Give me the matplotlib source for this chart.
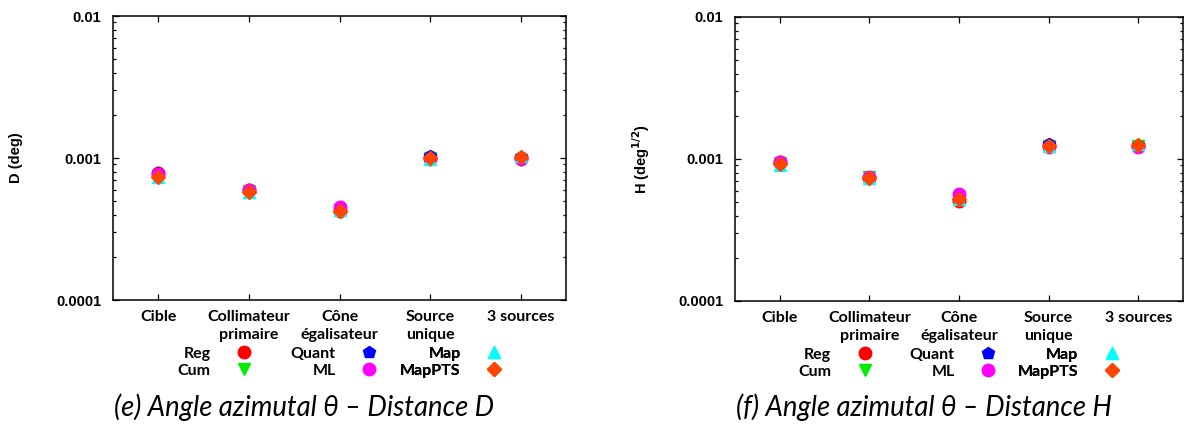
import numpy as np
import matplotlib
matplotlib.use("Agg")
import matplotlib.pyplot as plt
from matplotlib.font_manager import FontProperties
from matplotlib.ticker import LogLocator, NullFormatter

# Data
categories = ["Cible", "Collimateur\nprimaire", "Cône\négalisateur", "Source\nunique", "3 sources"]
series = ["Reg", "Cum", "Quant", "ML", "Map", "MapPTS"]
colors = ["#ff0000", "#00ee00", "#0000ff", "#ff00ff", "#00ffff", "#ff4500"]
markers = ["o", "v", "p", "o", "^", "D"]

# panel (e): distance D (deg)
D_reg    = [0.00079, 0.00060, 0.00042, 0.00102, 0.00100]
D_cum    = [0.00075, 0.00059, 0.00043, 0.00100, 0.00097]
D_quant  = [0.00079, 0.00060, 0.00043, 0.00104, 0.00101]
D_ml     = [0.00077, 0.00060, 0.00045, 0.00098, 0.00098]
D_map    = [0.00074, 0.00058, 0.00043, 0.00099, 0.00104]
D_mappts = [0.00073, 0.00058, 0.00042, 0.00100, 0.00102]

# panel (f): distance H (deg^1/2)
H_reg    = [0.00096, 0.00074, 0.00051, 0.00126, 0.00124]
H_cum    = [0.00093, 0.00075, 0.00053, 0.00124, 0.00124]
H_quant  = [0.00096, 0.00074, 0.00053, 0.00128, 0.00126]
H_ml     = [0.00096, 0.00075, 0.00057, 0.00121, 0.00121]
H_map    = [0.00091, 0.00073, 0.00052, 0.00123, 0.00128]
H_mappts = [0.00092, 0.00073, 0.00052, 0.00124, 0.00126]

yticks = [0.0001, 0.001, 0.01]
ytick_labels = ["0.0001", "0.001", "0.01"]

panels = [
    ([D_reg, D_cum, D_quant, D_ml, D_map, D_mappts], "D (deg)",
     "(e) Angle azimutal θ – Distance D", 24),
    ([H_reg, H_cum, H_quant, H_ml, H_map, H_mappts], "H (deg$^{\\mathbf{1/2}}$)",
     "(f) Angle azimutal θ – Distance H", 19),
]

W, H = 1186, 428
fig = plt.figure(figsize=(W / 100, H / 100), dpi=100)

# axes boxes in pixels: left, top, right, bottom
boxes = [(113, 16, 566, 300), (735, 17, 1183, 301)]
caption_x = [304, 924]

lab_font = dict(family=["Lato", "DejaVu Sans"], weight="bold", size=11.5)
num_font = dict(family=["Liberation Sans", "DejaVu Sans"], weight="bold", size=10.5)

x = np.arange(1, len(categories) + 1)

for (vals, ylabel, caption, lpad), (l, t, r, b), cx in zip(panels, boxes, caption_x):
    ax = fig.add_axes([l / W, 1 - b / H, (r - l) / W, (b - t) / H])
    handles = []
    for v, name, c, m in zip(vals, series, colors, markers):
        h, = ax.plot(x, v, linestyle="none", marker=m, color=c, ms=9 if m != "D" else 7.5,
                     mec=c, label=name)
        handles.append(h)

    ax.set_yscale("log")
    ax.set_ylim(0.0001, 0.01)
    ax.set_xlim(0.5, 5.5)
    ax.yaxis.set_minor_locator(LogLocator(base=10, subs=np.arange(2, 10)))
    ax.yaxis.set_minor_formatter(NullFormatter())
    ax.tick_params(which="both", direction="in", top=True, right=True, width=0.9)
    ax.tick_params(which="major", length=4.5)
    ax.tick_params(which="minor", length=2.5)
    ax.tick_params(axis="x", pad=7)
    ax.tick_params(axis="y", pad=8.5, labelsize=10.5)
    ax.set_yticks(yticks, ytick_labels)
    ax.set_xticks(x, categories, linespacing=1.35, **lab_font)
    for lbl in ax.get_yticklabels():
        lbl.set_fontproperties(FontProperties(**num_font))
    for s in ax.spines.values():
        s.set_linewidth(1.1)
    ax.set_ylabel(ylabel, labelpad=lpad, **num_font)

    # legend: 3 columns, label to the left of the marker
    for col in range(3):
        hh = handles[2 * col:2 * col + 2]
        leg = ax.legend(handles=hh, loc="upper right", markerfirst=False, frameon=False,
                        bbox_to_anchor=(0.289 + col * 0.276 + 0.018, -0.165),
                        handlelength=1.0, handletextpad=1.6, borderpad=0, borderaxespad=0,
                        labelspacing=0.15, prop=lab_font)
        ax.add_artist(leg)

    fig.text(cx / W, 1 - 407 / H, caption, ha="center", va="center", style="italic",
             family=["Lato", "DejaVu Sans"], size=19.8)

fig.savefig("out.png", dpi=100)
